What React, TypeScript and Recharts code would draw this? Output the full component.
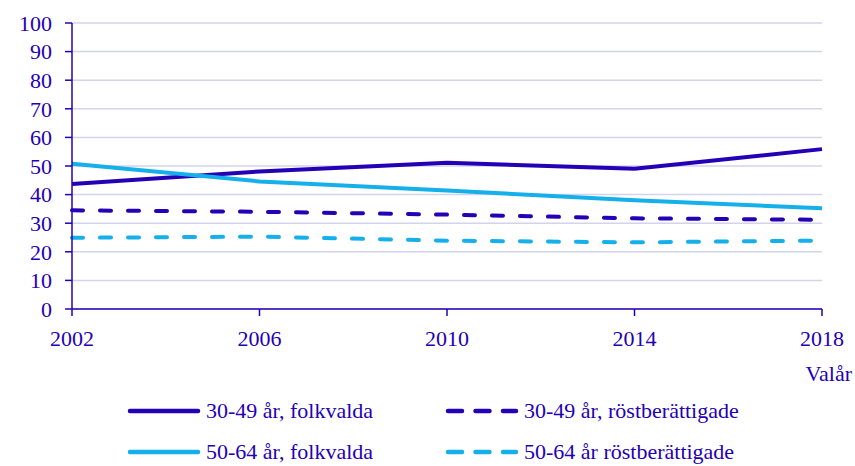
import { CartesianGrid, Line, LineChart, XAxis, YAxis } from 'recharts'

const years = [2002, 2006, 2010, 2014, 2018]
const folkvalda3049 = [43.7, 48.1, 51.1, 49.0, 55.9]
const rost3049 = [34.5, 34.0, 33.0, 31.7, 31.2]
const folkvalda5064 = [50.8, 44.6, 41.4, 38.0, 35.2]
const rost5064 = [24.9, 25.3, 23.9, 23.3, 23.9]
const yTicks = [0, 10, 20, 30, 40, 50, 60, 70, 80, 90, 100]

const DARK = '#2400b6'
const LIGHT = '#15b0ea'
const FONT = '"Liberation Serif", serif'
const FS = 22

const data = years.map((year, i) => ({
  year,
  f3049: folkvalda3049[i],
  r3049: rost3049[i],
  f5064: folkvalda5064[i],
  r5064: rost5064[i],
}))

const legendItems = [
  { key: 'f3049', label: '30-49 år, folkvalda', color: DARK, dashed: false },
  { key: 'r3049', label: '30-49 år, röstberättigade', color: DARK, dashed: true },
  { key: 'f5064', label: '50-64 år, folkvalda', color: LIGHT, dashed: false },
  { key: 'r5064', label: '50-64 år röstberättigade', color: LIGHT, dashed: true },
]

function LegendBox() {
  return (
    <div style={{ position: 'absolute', left: 0, top: 402, width: 855, height: 64, fontFamily: FONT }}>
      {legendItems.map((it, i) => {
        const col = i % 2
        const row = Math.floor(i / 2)
        return (
          <div
            key={it.key}
            style={{
              position: 'absolute',
              left: col === 0 ? 127 : 445,
              top: row * 41,
              display: 'flex',
              alignItems: 'center',
              color: DARK,
              fontSize: FS,
              height: 18,
              lineHeight: '18px',
              whiteSpace: 'nowrap',
            }}
          >
            <svg width={74} height={8} style={{ marginRight: 5 }}>
              <line
                x1={3}
                y1={4}
                x2={71}
                y2={4}
                stroke={it.color}
                strokeWidth={4.5}
                strokeLinecap="round"
                strokeDasharray={it.dashed ? '14 13.5' : undefined}
              />
            </svg>
            <span>{it.label}</span>
          </div>
        )
      })}
    </div>
  )
}

export default function App() {
  return (
    <div style={{ position: 'absolute', left: 0, top: 0, width: 855, height: 466, background: '#fff' }}>
      <LineChart
        width={855}
        height={466}
        data={data}
        margin={{ top: 23, right: 33, bottom: 85, left: 0 }}
      >
        <CartesianGrid vertical={false} stroke="#d3d3ee" strokeWidth={1.5} />
        <XAxis
          dataKey="year"
          type="number"
          domain={[2002, 2018]}
          ticks={years}
          height={72}
          stroke={DARK}
          strokeWidth={1.5}
          tickSize={7}
          tickMargin={14}
          tick={{ fill: DARK, fontSize: FS, fontFamily: FONT }}
          label={{
            value: 'Valår',
            position: 'insideBottomRight',
            offset: 0,
            dx: 30,
            fill: DARK,
            fontSize: FS,
            fontFamily: FONT,
          }}
        />
        <YAxis
          domain={[0, 100]}
          ticks={yTicks}
          width={72}
          interval={0}
          stroke={DARK}
          strokeWidth={1.5}
          tickSize={7}
          tickMargin={13}
          tick={{ fill: DARK, fontSize: FS, fontFamily: FONT }}
        />
        <Line dataKey="f3049" stroke={DARK} strokeWidth={4} dot={false} isAnimationActive={false} />
        <Line
          dataKey="r3049"
          stroke={DARK}
          strokeWidth={4}
          strokeDasharray="11 17"
          strokeLinecap="round"
          dot={false}
          isAnimationActive={false}
        />
        <Line dataKey="f5064" stroke={LIGHT} strokeWidth={4} dot={false} isAnimationActive={false} />
        <Line
          dataKey="r5064"
          stroke={LIGHT}
          strokeWidth={4}
          strokeDasharray="11 17"
          strokeLinecap="round"
          dot={false}
          isAnimationActive={false}
        />
      </LineChart>
      <LegendBox />
    </div>
  )
}
